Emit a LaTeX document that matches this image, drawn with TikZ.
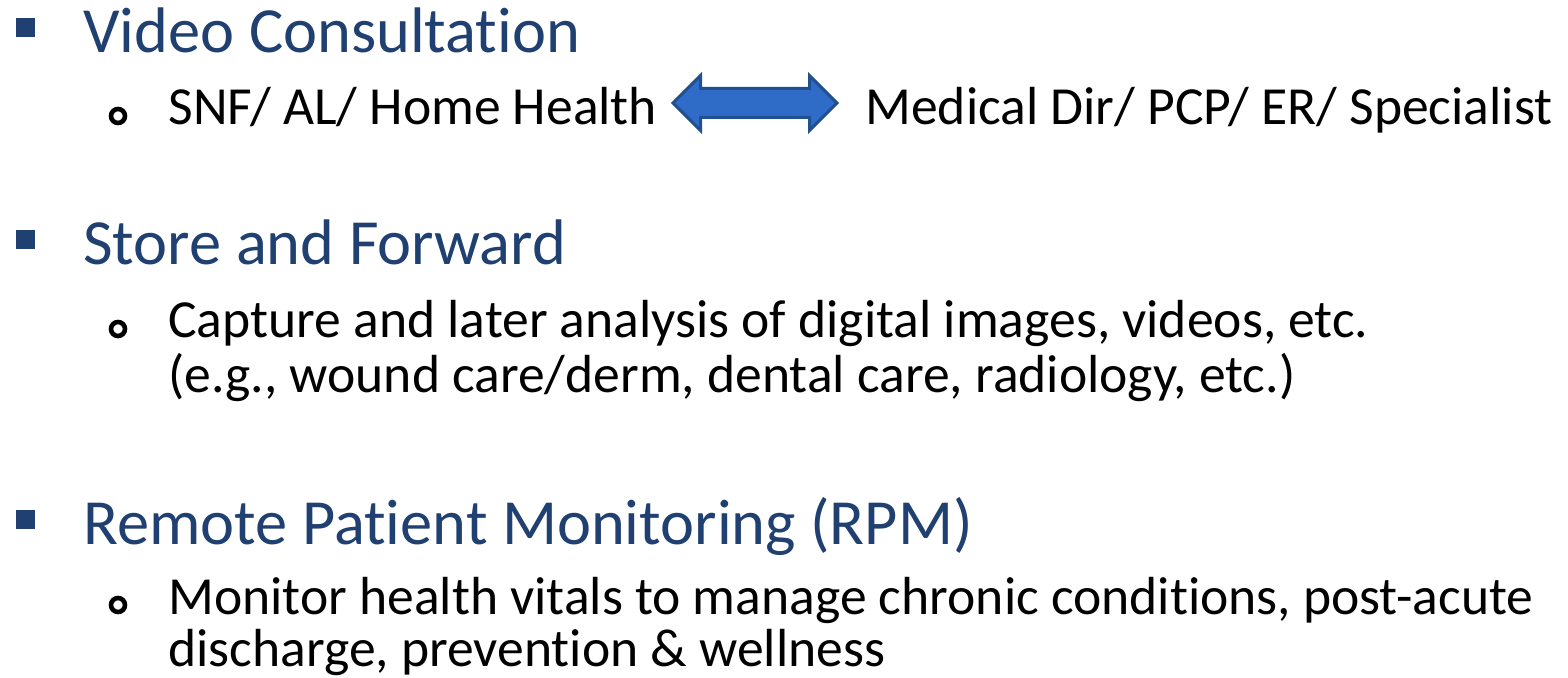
\documentclass[tikz,border=0pt]{standalone}
\usepackage{fontspec}
\setmainfont{Carlito}[Ligatures=NoCommon]
\usepackage{xcolor}
\usetikzlibrary{shapes.arrows}
\definecolor{titleblue}{RGB}{31,64,112}
\definecolor{arrowfill}{RGB}{47,108,200}
\definecolor{arrowedge}{RGB}{33,80,145}
\tikzset{
  head/.style={anchor=base west, inner sep=0pt, text=titleblue, font=\fontsize{32.2}{40}\selectfont},
  sub/.style={anchor=base west, inner sep=0pt, text=black, font=\fontsize{26.8}{32}\selectfont},
  sqbullet/.style={fill=titleblue, minimum size=9.5pt, inner sep=0pt},
  ringbullet/.style={circle, draw=black, line width=2.3pt, minimum size=7pt, inner sep=0pt},
  fatarrow/.style={double arrow, fill=arrowfill, draw=arrowedge, line width=1.5pt,
    double arrow head extend=6.5pt, inner xsep=0pt, inner ysep=0pt, minimum height=82pt}
}
\begin{document}
\begin{tikzpicture}[x=0.5pt,y=-0.5pt]
\useasboundingbox (0,0) rectangle (1568,678);

\node[sqbullet] (b1) at (25,28) {};
\node[head] (video) at (83,53) {Video Consultation};
\node[ringbullet] (r1) at (118,116) {};
\node[sub] (snf) at (168,125) {SNF/ AL/ Home Health};
\node[sub] (med) at (865,125) {Medical Dir/ PCP/ ER/ Specialist};
\node[fatarrow] (link) at (755,103) {\rule{0pt}{13pt}};

\node[sqbullet] (b2) at (25,240) {};
\node[head] (store) at (83,265) {Store and Forward};
\node[ringbullet] (r2) at (118,329) {};
\node[sub] (cap1) at (168,338) {Capture and later analysis of digital images, videos, etc.};
\node[sub] (cap2) at (168,393) {(e.g., wound care/derm, dental care, radiology, etc.)};

\node[sqbullet] (b3) at (25,519) {};
\node[head] (rpm) at (83,544) {Remote Patient Monitoring (RPM)};
\node[ringbullet] (r3) at (118,605) {};
\node[sub] (mon1) at (168,614) {Monitor health vitals to manage chronic conditions, post-acute};
\node[sub] (mon2) at (168,666) {discharge, prevention \& wellness};
\end{tikzpicture}
\end{document}
